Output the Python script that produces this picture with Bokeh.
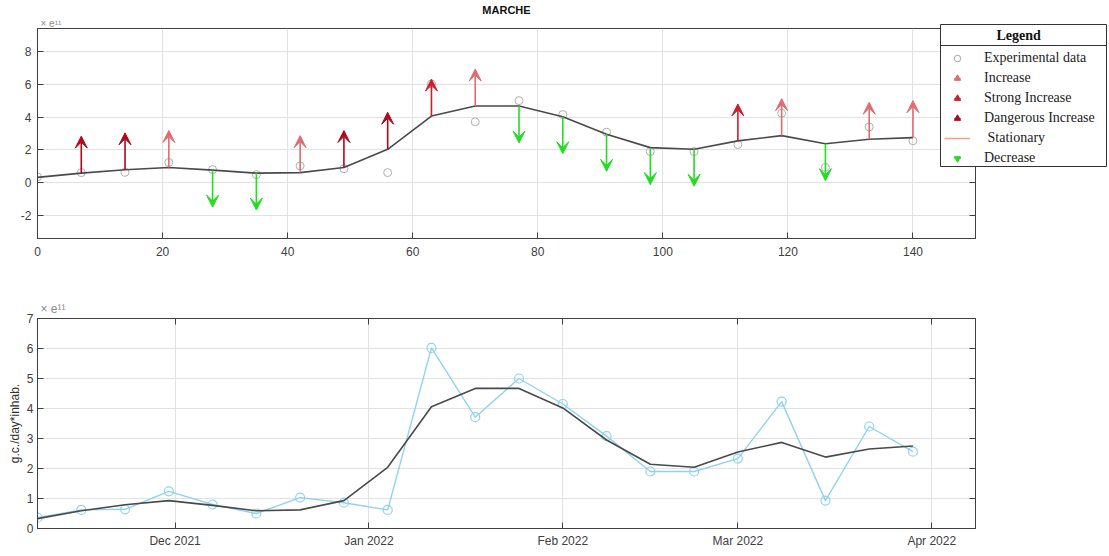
import pandas as pd
from bokeh.plotting import figure
from bokeh.layouts import column, row
from bokeh.models import (Range1d, ColumnDataSource, Arrow, VeeHead, Legend, LegendItem,
                          Title, FixedTicker, LinearAxis, DatetimeAxis, DatetimeTickFormatter,
                          CustomJSTickFormatter, Span)
from bokeh.embed import file_html
from bokeh.resources import INLINE

# ---------------- data (values in units of 1e11 g.c./day*inhab.) ----------------
days = [0, 7, 14, 21, 28, 35, 42, 49, 56, 63, 70, 77, 84, 91, 98, 105, 112, 119, 126, 133, 140]
dates = ["2021-11-09", "2021-11-16", "2021-11-23", "2021-11-30", "2021-12-07", "2021-12-14",
         "2021-12-21", "2021-12-28", "2022-01-04", "2022-01-11", "2022-01-18", "2022-01-25",
         "2022-02-01", "2022-02-08", "2022-02-15", "2022-02-22", "2022-03-01", "2022-03-08",
         "2022-03-15", "2022-03-22", "2022-03-29"]
experimental = [0.36, 0.62, 0.64, 1.24, 0.80, 0.50, 1.03, 0.86, 0.62, 6.02, 3.71, 5.00,
                4.15, 3.08, 1.90, 1.90, 2.33, 4.23, 0.93, 3.40, 2.56]
trend = [0.33, 0.59, 0.79, 0.93, 0.77, 0.59, 0.62, 0.93, 2.04, 4.06, 4.67, 4.67,
         4.02, 2.95, 2.14, 2.04, 2.55, 2.87, 2.38, 2.65, 2.75]
status = ["none", "dangerous", "dangerous", "increase", "decrease", "decrease", "increase",
          "dangerous", "dangerous", "strong", "increase", "decrease", "decrease", "decrease",
          "decrease", "decrease", "strong", "increase", "decrease", "increase", "increase"]
x_ticks_top = [0, 20, 40, 60, 80, 100, 120, 140]
y_ticks_top = [-2, 0, 2, 4, 6, 8]
y_ticks_bottom = [0, 1, 2, 3, 4, 5, 6, 7]
month_ticks = ["2021-12-01", "2022-01-01", "2022-02-01", "2022-03-01", "2022-04-01"]
legend_labels = ["Experimental data", "Increase", "Strong Increase", "Dangerous Increase",
                 "\u00a0Stationary", "Decrease"]

ARROW_LEN = 2.25
colors = {"increase": "#e26b70", "strong": "#d01c2c", "dangerous": "#ad0a1e",
          "decrease": "#22dd22", "stationary": "#f4a08a"}
AX = "#404040"
TICK_FONT = "Liberation Sans"
EMPTY = CustomJSTickFormatter(code="return ''")
NAN = float("nan")


def style(p, xt, yt):
    p.outline_line_color = AX
    p.outline_line_width = 1
    for ax in p.axis:
        ax.axis_line_color = AX
        ax.major_tick_line_color = AX
        ax.major_tick_in = 6
        ax.major_tick_out = 0
        ax.minor_tick_line_color = None
        ax.major_label_text_font = TICK_FONT
        ax.major_label_text_font_size = "12px"
        ax.major_label_text_color = AX
    p.xgrid.grid_line_color = "#e2e2e2"
    p.ygrid.grid_line_color = "#e2e2e2"
    p.xgrid.ticker = xt
    p.ygrid.ticker = yt


def exp_title(standoff, size):
    return Title(text="\u00d7  e\u00b9\u00b9", align="left", offset=3, standoff=standoff,
                 text_font=TICK_FONT, text_font_size=size, text_font_style="normal",
                 text_color="#8a8a8a")


def hidden_axis(cls, ticker):
    return cls(ticker=ticker, formatter=EMPTY, major_label_standoff=0)


# ---------------- top panel ----------------
p1 = figure(width=980, height=270, output_backend="svg", toolbar_location=None,
            x_range=Range1d(0, 150), y_range=Range1d(-3.39, 9.39),
            min_border_left=37, min_border_right=5, min_border_top=28, min_border_bottom=32)
p1.title.text = "MARCHE"
p1.title.align = "center"
p1.title.text_font = TICK_FONT
p1.title.text_font_size = "11px"
p1.title.text_color = "#111111"
p1.title.standoff = 0
xt1 = FixedTicker(ticks=x_ticks_top)
yt1 = FixedTicker(ticks=y_ticks_top)
p1.xaxis.ticker = xt1
p1.yaxis.ticker = yt1
p1.yaxis.major_label_overrides = {-2: "-2"}
p1.add_layout(hidden_axis(LinearAxis, yt1), "right")
p1.add_layout(exp_title(0, "10px"), "above")
style(p1, xt1, yt1)
p1.right[0].major_label_text_font_size = "1px"
p1.xaxis[0].major_label_standoff = 8
p1.yaxis[0].major_label_standoff = 6

p1.scatter(days, experimental, marker="circle", size=8, fill_color=None,
           line_color="#b0b0b0", line_width=1)
p1.line(days, trend, line_color="#4a4a4a", line_width=1.6)

for cat in ["increase", "strong", "dangerous", "decrease"]:
    xs = [d for d, s in zip(days, status) if s == cat]
    y0 = [t for t, s in zip(trend, status) if s == cat]
    sign = -1 if cat == "decrease" else 1
    y1 = [v + sign * ARROW_LEN for v in y0]
    src = ColumnDataSource(dict(x=xs, y0=y0, y1=y1))
    c = colors[cat]
    p1.add_layout(Arrow(end=VeeHead(size=12, fill_color=c, line_color=c, line_width=1),
                        x_start="x", y_start="y0", x_end="x", y_end="y1", source=src,
                        line_color=c, line_width=1.6))

# ---------------- legend box (overlay figure) ----------------
lg = figure(width=167, height=143, title=None, output_backend="svg", toolbar_location=None,
            x_range=Range1d(0, 167), y_range=Range1d(143, 0),
            min_border=0, x_axis_location=None, y_axis_location=None,
            margin=(24, 0, 0, -40), frame_align=False)
lg.grid.visible = False
lg.outline_line_color = "#333333"
lg.outline_line_width = 1
lg.background_fill_color = "white"
lg.border_fill_color = "white"


def arrow_icon(marker, c):
    stem = lg.scatter([NAN], [NAN], marker="dash", angle=1.5708, size=9, line_color=c, line_width=1)
    head = lg.scatter([NAN], [NAN], marker=marker, size=6, fill_color=c, line_color=c)
    return [stem, head]


leg_renderers = [
    [lg.scatter([NAN], [NAN], marker="circle", size=7, fill_color=None, line_color="#a0a0a0")],
    arrow_icon("triangle", colors["increase"]),
    arrow_icon("triangle", colors["strong"]),
    arrow_icon("triangle", colors["dangerous"]),
    [lg.line([NAN, NAN], [NAN, NAN], line_color=colors["stationary"], line_width=1.5)],
    arrow_icon("inverted_triangle", colors["decrease"]),
]
legend = Legend(items=[LegendItem(label=t, renderers=r) for t, r in zip(legend_labels, leg_renderers)],
                location="top_left",
                title="\u00a0" * 15 + "Legend",
                title_text_font="Liberation Serif", title_text_font_style="bold",
                title_text_font_size="14px", title_text_color="#111111", title_standoff=4,
                label_text_font="Liberation Serif", label_text_font_size="14px",
                label_text_color="#222222", label_height=19, glyph_height=16, glyph_width=26,
                label_standoff=14, spacing=1, padding=4, margin=0,
                border_line_color="white", border_line_alpha=0, background_fill_alpha=0)
lg.add_layout(legend)
lg.add_layout(Span(location=21, dimension="width", line_color="#333333", line_width=1, level="underlay"))

# ---------------- bottom panel ----------------
dts = pd.to_datetime(dates)
p2 = figure(width=1109, height=286, output_backend="svg", toolbar_location=None,
            x_axis_type="datetime",
            x_range=Range1d(pd.Timestamp("2021-11-09"), pd.Timestamp("2022-04-08")),
            y_range=Range1d(0, 7),
            min_border_left=37, min_border_right=134, min_border_top=48, min_border_bottom=28)
mt = [pd.Timestamp(d).value // 10**6 for d in month_ticks]
xt2 = FixedTicker(ticks=mt)
yt2 = FixedTicker(ticks=y_ticks_bottom)
p2.xaxis.ticker = xt2
p2.xaxis.formatter = DatetimeTickFormatter(days="%b %Y", months="%b %Y", years="%b %Y")
p2.yaxis.ticker = yt2
p2.add_layout(hidden_axis(DatetimeAxis, xt2), "above")
p2.add_layout(hidden_axis(LinearAxis, yt2), "right")
p2.add_layout(exp_title(6, "12px"), "above")
style(p2, xt2, yt2)
p2.above[0].major_label_text_font_size = "1px"
p2.right[0].major_label_text_font_size = "1px"
p2.xaxis[0].major_label_standoff = 6
p2.yaxis[0].major_label_standoff = 4
p2.yaxis[0].axis_label = "g.c./day*inhab."
p2.yaxis[0].axis_label_text_font = TICK_FONT
p2.yaxis[0].axis_label_text_font_style = "normal"
p2.yaxis[0].axis_label_text_font_size = "12px"
p2.yaxis[0].axis_label_text_color = "#303030"
p2.yaxis[0].axis_label_standoff = 2

p2.line(dts, experimental, line_color="#8fd3f0", line_width=1.4)
p2.scatter(dts, experimental, marker="circle", size=9, fill_color=None,
           line_color="#8fd3f0", line_width=1.2)
p2.line(dts, trend, line_color="#4a4a4a", line_width=1.6)

layout = column(row(p1, lg, spacing=0), p2, spacing=0)
open("out.html", "w").write(file_html(layout, INLINE))
